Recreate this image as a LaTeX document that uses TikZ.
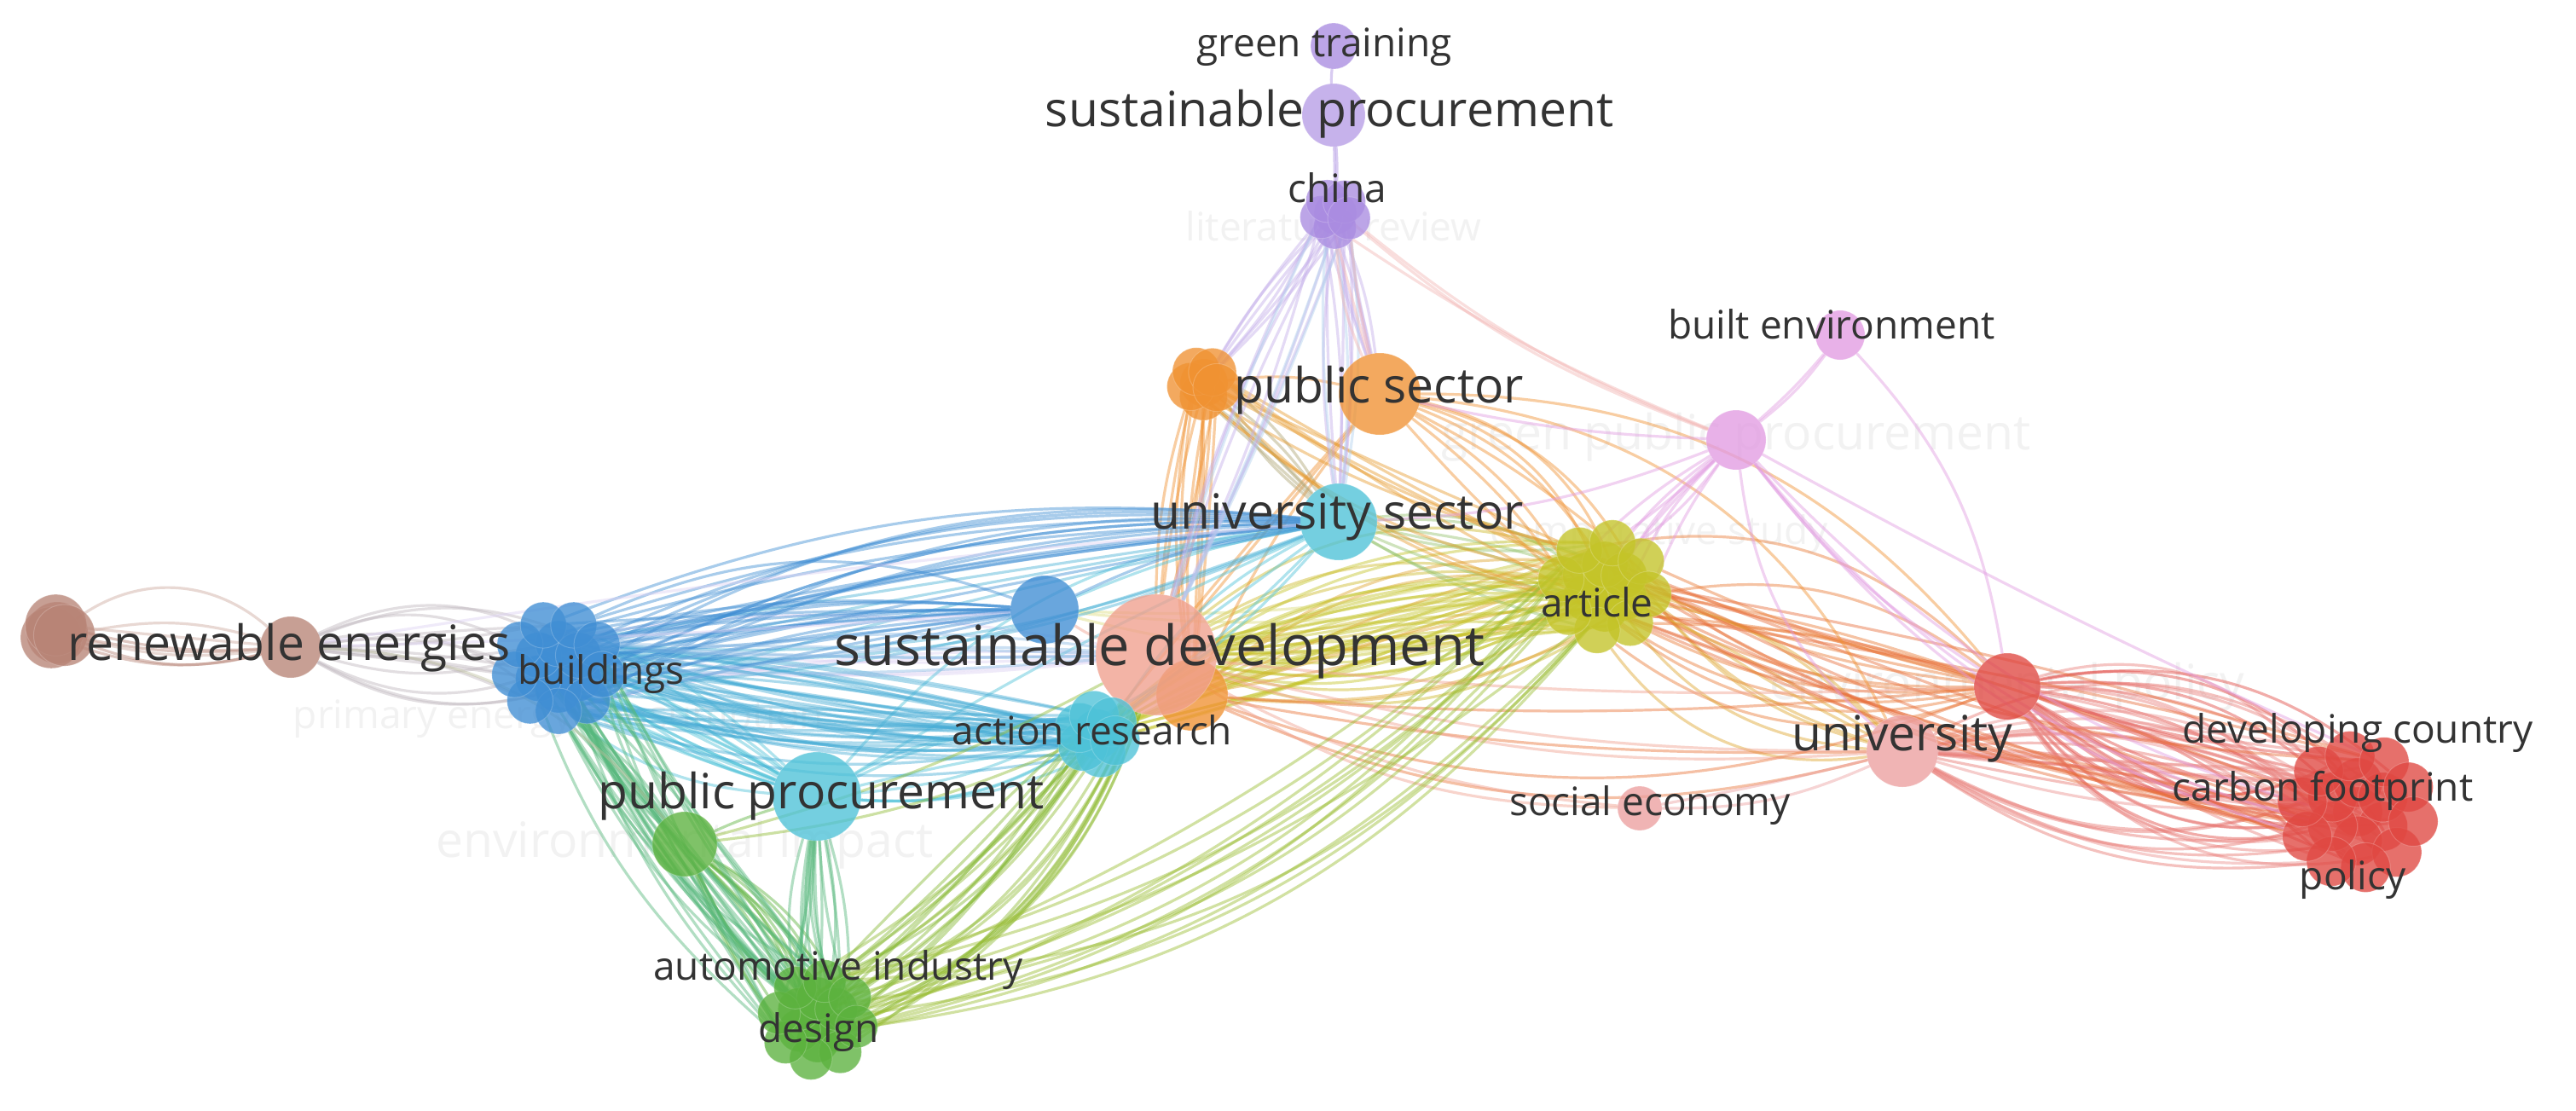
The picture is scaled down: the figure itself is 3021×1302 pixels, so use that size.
\documentclass[tikz,border=0pt]{standalone}
\usepackage{fontspec}
\setmainfont{Open Sans}
\pgfdeclarelayer{bg}\pgfdeclarelayer{fg}\pgfsetlayers{bg,main,fg}
\definecolor{cred}{RGB}{224,72,66}
\definecolor{cgreen}{RGB}{92,178,62}
\definecolor{cblue}{RGB}{64,142,212}
\definecolor{cyel}{RGB}{196,196,40}
\definecolor{cpur}{RGB}{170,140,225}
\definecolor{ccyan}{RGB}{78,194,216}
\definecolor{corange}{RGB}{240,146,50}
\definecolor{cbrown}{RGB}{184,132,118}
\definecolor{cpink}{RGB}{226,156,226}
\definecolor{csalmon}{RGB}{240,160,142}
\definecolor{cuni}{RGB}{236,160,160}
\tikzset{
 blob/.style={circle,inner sep=0pt,fill=#1,fill opacity=0.78,draw=white,draw opacity=0.2,line width=0.5pt},
 dia/.style={minimum size={0.5*#1}},
 lnk/.style={line width=1.6pt,draw opacity=0.45,line cap=round},
 lbs/.style={inner sep=0pt,anchor=base,text=black!80,font=\fontsize{23}{25}\selectfont},
 lbl/.style={inner sep=0pt,anchor=base,text=black!80,font=\fontsize{28.5}{31}\selectfont},
 lbx/.style={inner sep=0pt,anchor=base,text=black!80,font=\fontsize{32.5}{35}\selectfont},
 faint/.style={text=black!5},
}
\newcommand\mkclus[8]{%
  \node[blob=#8,dia=#7] (#1c) at (#2,#3) {};
  \foreach \a [count=\i] in {30,90,...,330}
    \node[blob=#8,dia=#7] (#1a\i) at ({#2+#4*cos(\a)},{#3+#4*sin(\a)}) {};
  \foreach \i in {1,...,#6}
    \node[blob=#8,dia=#7] (#1b\i) at ({#2+#5*cos(360*\i/#6+10)},{#3+#5*sin(360*\i/#6+10)}) {};
}
\newcommand\mksmall[7]{%
  \node[blob=#7,dia=#6] (#1c) at (#2,#3) {};
  \foreach \i in {1,...,#5}
    \node[blob=#7,dia=#6] (#1a\i) at ({#2+#4*cos(360*\i/#5+20)},{#3+#4*sin(360*\i/#5+20)}) {};
}
\newcommand\links[5]{\foreach \s in #1 {\foreach \t in #2 {\pgfmathsetmacro\bb{#4+#5*rand}\draw[lnk,#3] (\s) to[bend left=\bb] (\t);}}}
\def\RED{redc,reda1,reda2,reda3,reda4,reda5,reda6,redb1,redb2,redb3,redb4,redb5,redb6,redb7,redb8,redb9,redb10}
\def\REDh{redc,reda2,reda4,reda6,redb1,redb3,redb5,redb7,redb9}
\def\REDq{reda1,reda3,redb4,redb8}
\def\ART{artc,arta1,arta2,arta3,arta4,arta5,arta6,artb1,artb2,artb3,artb4,artb5,artb6,artb7,artb8}
\def\ARTh{artc,arta1,arta3,arta5,artb2,artb4,artb6,artb8}
\def\ARTq{arta2,arta4,artb5}
\def\BLD{bldc,blda1,blda2,blda3,blda4,blda5,blda6,bldb1,bldb2,bldb3,bldb4,bldb5,bldb6,bldb7,bldb8,bldb9}
\def\BLDh{bldc,blda2,blda5,bldb2,bldb5,bldb8}
\def\DES{desc,desa1,desa2,desa3,desa4,desa5,desa6,desb1,desb2,desb3,desb4,desb5,desb6,desb7,desb8}
\def\DESh{desc,desa1,desa4,desb3,desb6}
\def\CHI{chic,chia1,chia2,chia3,chia4,chia5}
\def\CHIh{chia1,chia3,chia5}
\def\ORN{ornc,orna1,orna2,orna3,orna4,orna5}
\def\ORNh{ornc,orna2,orna4}
\def\ACT{actc,acta1,acta2,acta3,acta4,acta5,acta6}
\def\BRW{brwc,brwa1,brwa2,brwa3}
\begin{document}
\begin{tikzpicture}[x=0.5pt,y=-0.5pt]
\useasboundingbox (0,0) rectangle (3021,1302);
% ---------------- nodes
\node[blob=cpur,dia=54] (gtrain) at (1564,54) {};
\node[blob=cpur!85!white,dia=74] (sproc) at (1564,135) {};
\mksmall{chi}{1566}{250}{17}{5}{50}{cpur}
\mksmall{orn}{1412}{449}{16}{5}{56}{corange}
\node[blob=corange,dia=96] (psect) at (1618,462) {};
\node[blob=ccyan,dia=90] (usect) at (1570,612) {};
\node[blob=cpink,dia=70] (gpp) at (2036,516) {};
\node[blob=cpink,dia=58] (built) at (2158,393) {};
\mkclus{art}{1882}{688}{26}{52}{8}{54}{cyel}
\node[blob=corange,dia=84] (sdor) at (1398,815) {};
\node[blob=csalmon,dia=142] (sustdev) at (1356,768) {};
\node[blob=cblue,dia=80] (bnode) at (1225,715) {};
\mkclus{bld}{655}{782}{27}{52}{9}{54}{cblue}
\node[blob=cbrown,dia=72] (renew) at (341,759) {};
\mksmall{brw}{67}{742}{9}{3}{72}{cbrown}
\mksmall{act}{1287}{861}{22}{6}{58}{ccyan}
\node[blob=ccyan,dia=104] (ppro) at (958,934) {};
\node[blob=cgreen,dia=76] (gnode) at (803,990) {};
\mkclus{des}{959}{1196}{25}{46}{8}{50}{cgreen}
\node[blob=cuni,dia=84] (univ) at (2231,881) {};
\node[blob=cred,dia=78] (envpol) at (2354,805) {};
\node[blob=cuni,dia=52] (soceco) at (1923,948) {};
\mkclus{red}{2765}{952}{34}{66}{10}{58}{cred}
% ---------------- background, faint labels, links
\begin{pgfonlayer}{bg}
\fill[white] (0,0) rectangle (3021,1302);
\node[lbs,faint] (Llr) at (1564,282) {literature review};
\node[lbl,faint] (Lgpp) at (2036,527) {green public procurement};
\node[lbs,faint] (Lcs) at (1946,638) {comparative study};
\node[lbs,faint] (Lpe) at (655,854) {primary energy consumption};
\node[lbl,faint] (Lei) at (803,1005) {environmental impact};
\node[lbl,faint] (Lep) at (2354,820) {environmental policy};
\pgfmathsetseed{12}
% red
\links{\RED}{{envpol}}{cred}{0}{38}
\links{\RED}{{envpol}}{cred!70!white}{0}{38}
\links{\RED}{{univ}}{cred!75!white}{0}{30}
\links{\REDh}{{univ}}{cred!60!white}{-5}{25}
% article
\links{\ART}{{envpol}}{corange!70!cred}{0}{30}
\links{\ARTh}{{univ}}{corange!60!cyel}{-5}{28}
\links{\ARTq}{\REDq}{corange!50!cred}{-5}{10}
\links{\ART}{{sustdev}}{cyel}{0}{30}
\links{\ARTh}{{sustdev}}{cyel!80!corange}{0}{30}
\links{\ARTh}{{sdor}}{corange!60!cyel}{-5}{25}
\links{\ARTh}{{usect}}{cyel!60!ccyan}{0}{25}
\links{\ARTh}{{actc,acta2}}{cyel}{-10}{15}
\links{\ARTq}{{bnode}}{cyel!60!white}{5}{10}
% orange
\links{{psect}}{\ARTh}{corange}{10}{20}
\links{{psect}}{{envpol,univ}}{corange}{15}{15}
\links{{psect}}{{sustdev,sdor,actc}}{corange}{0}{10}
\links{{psect}}{{ornc}}{corange}{0}{20}
\links{\ORN}{{sustdev,sdor}}{corange}{0}{10}
\links{\ORN}{{usect}}{corange!60!ccyan}{0}{10}
\links{\ORNh}{\ARTq}{corange!80!cyel}{-10}{10}
\links{{sdor}}{{envpol,univ}}{corange!60!cred}{-12}{8}
\links{{sdor}}{{envpol,univ}}{corange!60!cred}{-12}{8}
% salmon
\links{{sustdev}}{{univ,soceco}}{csalmon}{-10}{6}
\links{{sustdev}}{{univ,soceco,envpol}}{csalmon}{-10}{6}
\links{{soceco}}{{univ}}{cuni}{-5}{8}
\links{{soceco}}{{univ}}{cuni}{-5}{8}
\links{{sustdev}}{{bnode}}{csalmon}{0}{10}
\links{{sustdev}}{\BLDh}{cpur!40!white}{-5}{15}
% cyan
\links{{usect}}{{actc,acta3,acta5,sustdev,bnode}}{ccyan}{0}{15}
\links{{usect}}{{ppro}}{ccyan}{-10}{15}
\links{{usect}}{{ppro}}{ccyan}{-10}{15}
\links{{usect}}{\BLDh}{ccyan!70!cblue}{5}{10}
\links{{ppro}}{\BLD}{ccyan}{0}{15}
\links{{ppro}}{\ACT}{ccyan}{0}{20}
\links{\ACT}{\BLDh}{ccyan!60!cblue}{5}{10}
% blue
\links{\BLD}{{bnode}}{cblue}{8}{14}
\links{\BLD}{{usect}}{cblue}{10}{10}
\links{\BLDh}{{sustdev}}{cblue!60!white}{5}{10}
\links{{bnode}}{{usect}}{cblue}{0}{10}
\links{\BLD}{{renew}}{cblue!30!cbrown!60!white}{0}{28}
\links{{renew}}{{bnode,usect}}{cpur!40!white}{-3}{8}
% brown
\links{{renew}}{\BRW}{cbrown}{0}{40}
\links{{renew}}{\BRW}{cbrown!70!white}{0}{40}
% green
\links{\DES}{{gnode}}{cgreen}{0}{20}
\links{\DES}{{ppro}}{cgreen!60!ccyan}{0}{15}
\links{\DESh}{\BLDh}{cgreen!60!ccyan}{5}{10}
\links{\DES}{{sustdev}}{cgreen!50!cyel}{-18}{10}
\links{\DESh}{\ARTq}{cyel!60!cgreen}{-15}{8}
\links{\DESh}{{actc,acta4}}{cgreen!60!cyel}{-8}{10}
\links{{gnode}}{{ppro}}{cgreen}{0}{15}
\links{{gnode}}{\BLDh}{cgreen!60!ccyan}{0}{15}
\links{{gnode}}{{renew}}{cgreen!40!cbrown!60!white}{-25}{5}
\links{{gnode}}{{actc,sustdev}}{cgreen!50!cyel}{-5}{8}
% purple
\links{\CHI}{{psect,usect,sustdev,ornc}}{cpur!70!white}{0}{8}
\links{\CHIh}{{usect,sustdev}}{cblue!40!white}{0}{8}
\links{\CHIh}{{psect,gpp}}{cred!40!white}{-5}{8}
\links{{chic}}{{sproc}}{cpur}{0}{8}
\links{{chic}}{{sproc}}{cpur}{0}{8}
\links{{sproc}}{{gtrain}}{cpur}{0}{5}
% pink
\links{{gpp}}{{built}}{cpink}{0}{30}
\links{{gpp}}{{built}}{cpink}{0}{30}
\links{{gpp}}{\ARTh}{cpink}{0}{15}
\links{{gpp}}{{envpol,univ}}{cpink}{-10}{15}
\links{{gpp}}{{psect,usect}}{cpink}{5}{10}
\links{{gpp}}{\REDq}{cpink}{-8}{10}
\links{{built}}{{envpol}}{cpink}{15}{5}
\end{pgfonlayer}
% ---------------- labels
\begin{pgfonlayer}{fg}
\node[lbs] (Lgt) at (1553,66) {green training};
\node[lbl] (Lsp) at (1559,148) {sustainable procurement};
\node[lbs] (Lch) at (1568,237) {china};
\node[lbl] (Lps) at (1617,472) {public sector};
\node[lbs] (Lbe) at (2148,397) {built environment};
\node[lbl] (Lus) at (1568,620) {university sector};
\node[lbs] (Lar) at (1873,723) {article};
\node[lbx] (Lsd) at (1360,780) {sustainable development};
\node[lbl] (Lre) at (339,774) {renewable energies};
\node[lbs] (Lbu) at (705,802) {buildings};
\node[lbs] (Lac) at (1281,873) {action research};
\node[lbl] (Lpp) at (963,948) {public procurement};
\node[lbs] (Lai) at (983,1149) {automotive industry};
\node[lbs] (Lde) at (960,1222) {design};
\node[lbl] (Lun) at (2231,880) {university};
\node[lbs] (Lse) at (1935,956) {social economy};
\node[lbs] (Ldc) at (2765,871) {developing country};
\node[lbs] (Lcf) at (2724,939) {carbon footprint};
\node[lbs] (Lpo) at (2759,1043) {policy};
\end{pgfonlayer}
\end{tikzpicture}
\end{document}
